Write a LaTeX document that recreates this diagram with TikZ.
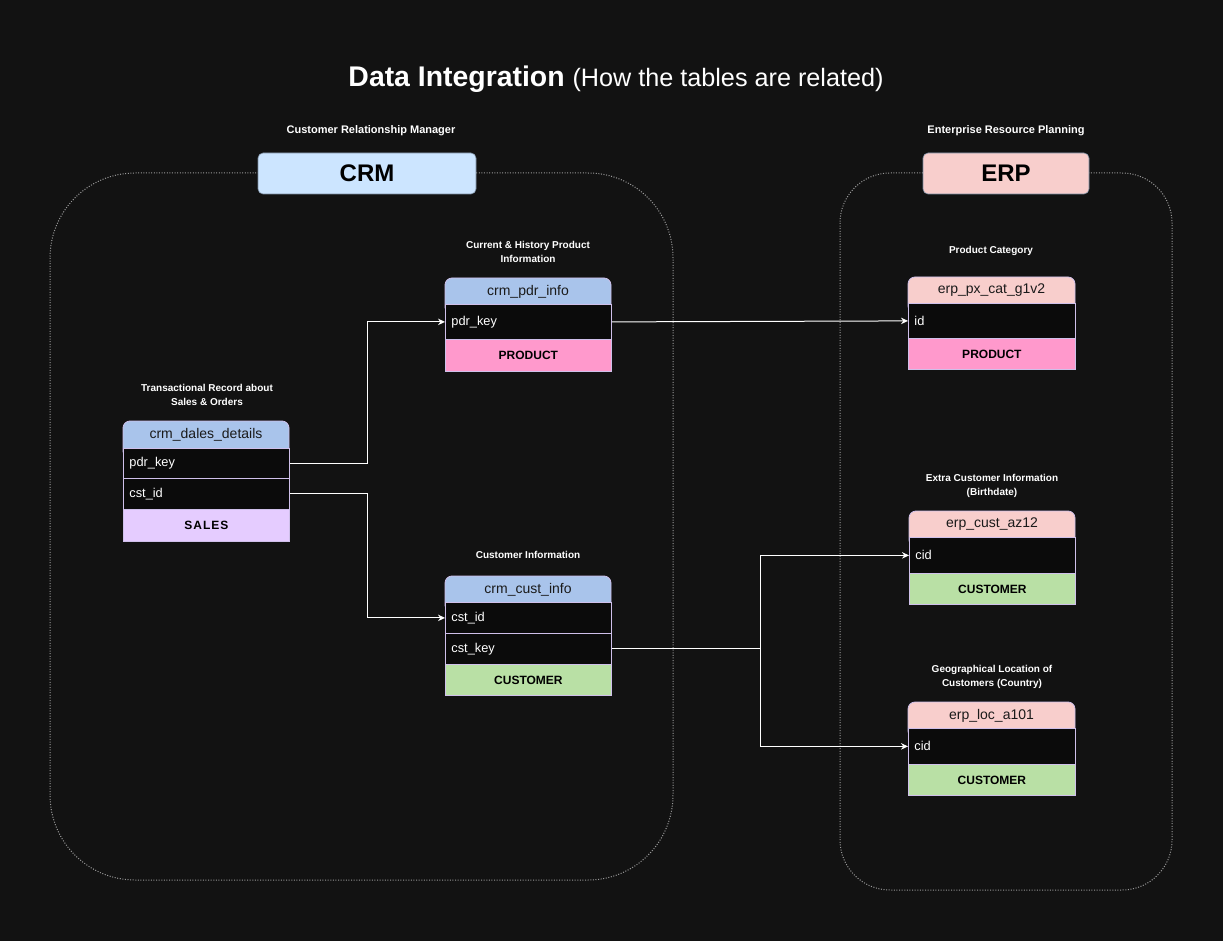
\documentclass[tikz,border=0pt]{standalone}
\usepackage{fontspec}
\setmainfont{Liberation Sans}
\usetikzlibrary{arrows.meta}
\definecolor{bg}{HTML}{121212}
\definecolor{rowfill}{HTML}{0B0B0B}
\definecolor{tblborder}{HTML}{CFC0EA}
\definecolor{dotgray}{HTML}{9A9A9A}
\definecolor{crmhead}{HTML}{A9C4EB}
\definecolor{erphead}{HTML}{F8CECC}
\definecolor{crmbox}{HTML}{CCE5FF}
\definecolor{erpbox}{HTML}{F8CECC}
\definecolor{salesfill}{HTML}{E5CCFF}
\definecolor{prodfill}{HTML}{FF99CC}
\definecolor{custfill}{HTML}{B9E0A5}
\definecolor{headink}{HTML}{1A1A1A}
\definecolor{catborder}{HTML}{7A8CA0}
\newcommand{\tblhead}[7]{%
  \path[fill=#6, draw=tblborder, line width=0.8pt, rounded corners=7pt] (#2,#3) rectangle (#4,#5+10);
  \node[headtext] (#1) at ({(#2+#4)/2},{(#3+#5)/2+0.5}) {#7};}
\begin{document}
\begin{tikzpicture}[x=1pt,y=-1pt,
  caption/.style={text=white, font=\fontsize{10}{13.5}\selectfont\bfseries, align=center},
  subtitle/.style={text=white, font=\fontsize{11}{13}\selectfont\bfseries},
  catbox/.style={draw=catborder, line width=0.6pt, rounded corners=5pt, minimum height=41pt, font=\fontsize{24}{28}\selectfont\bfseries, text=black},
  headtext/.style={text=headink, font=\fontsize{14}{16}\selectfont, inner sep=0pt},
  rowcell/.style={draw=tblborder, line width=0.8pt, fill=rowfill, text=white, font=\fontsize{12.8}{14}\selectfont, align=left, anchor=north west, inner xsep=6pt, inner ysep=0pt},
  footcell/.style={draw=tblborder, line width=0.8pt, text=black, font=\fontsize{12}{14}\selectfont\bfseries, anchor=north west, inner sep=0pt},
  container/.style={draw=dotgray, line width=1pt, dash pattern=on 1pt off 1.6pt},
  conn/.style={draw=white, line width=1pt, -{Stealth[length=7pt,width=6.5pt]}}]
\fill[bg] (0,0) rectangle (1223,941);
\useasboundingbox (0,0) rectangle (1223,941);

% title
\node[text=white, inner sep=0pt] (title) at (616,79) {\fontsize{28.4}{33}\selectfont\bfseries Data Integration \fontsize{25.2}{30}\selectfont\mdseries(How the tables are related)};

% containers
\draw[container, rounded corners=85pt] (50,173) rectangle (673,880);
\draw[container, rounded corners=50pt] (840,173) rectangle (1172,890);

% system labels
\node[subtitle] (crmsub) at (371,131) {Customer Relationship Manager};
\node[subtitle] (erpsub) at (1006,131) {Enterprise Resource Planning};
\node[catbox, fill=crmbox, minimum width=218pt] (crm) at (367,173.5) {CRM};
\node[catbox, fill=erpbox, minimum width=166pt] (erp) at (1006,173.5) {ERP};

% captions
\node[caption] (capsd) at (207,395) {Transactional Record about\\Sales \& Orders};
\node[caption] (cappi) at (528,252) {Current \& History Product\\Information};
\node[caption] (capci) at (528,555) {Customer Information};
\node[caption] (capec) at (991,251) {Product Category};
\node[caption] (capea) at (992,486) {Extra Customer Information\\(Birthdate)};
\node[caption] (capel) at (992,677) {Geographical Location of\\Customers (Country)};

% crm_dales_details
\tblhead{sd}{123}{421}{289}{448}{crmhead}{crm\_dales\_details}
\node[rowcell, text width=154pt, minimum height=30pt] (sd-pdr) at (123,448) {pdr\_key};
\node[rowcell, text width=154pt, minimum height=31pt] (sd-cst) at (123,478) {cst\_id};
\node[footcell, fill=salesfill, minimum width=166pt, minimum height=32pt] (sd-foot) at (123,509) {\addfontfeature{LetterSpace=8}SALES};

% crm_pdr_info
\tblhead{pi}{445}{278}{611}{304}{crmhead}{crm\_pdr\_info}
\node[rowcell, text width=154pt, minimum height=35pt] (pi-pdr) at (445,304) {pdr\_key\\[3pt]};
\node[footcell, fill=prodfill, minimum width=166pt, minimum height=32pt] (pi-foot) at (445,339) {PRODUCT};

% crm_cust_info
\tblhead{ci}{445}{576}{611}{602}{crmhead}{crm\_cust\_info}
\node[rowcell, text width=154pt, minimum height=31pt] (ci-id) at (445,602) {cst\_id};
\node[rowcell, text width=154pt, minimum height=31pt] (ci-key) at (445,633) {cst\_key};
\node[footcell, fill=custfill, minimum width=166pt, minimum height=31pt] (ci-foot) at (445,664) {CUSTOMER};

% erp_px_cat_g1v2
\tblhead{ec}{908}{277}{1075}{303}{erphead}{erp\_px\_cat\_g1v2}
\node[rowcell, text width=155pt, minimum height=35pt] (ec-id) at (908,303) {id\\[3pt]};
\node[footcell, fill=prodfill, minimum width=167pt, minimum height=31pt] (ec-foot) at (908,338) {PRODUCT};

% erp_cust_az12
\tblhead{ea}{909}{511}{1075}{537}{erphead}{erp\_cust\_az12}
\node[rowcell, text width=154pt, minimum height=36pt] (ea-cid) at (909,537) {cid\\[3pt]};
\node[footcell, fill=custfill, minimum width=166pt, minimum height=31pt] (ea-foot) at (909,573) {CUSTOMER};

% erp_loc_a101
\tblhead{el}{908}{702}{1075}{728}{erphead}{erp\_loc\_a101}
\node[rowcell, text width=155pt, minimum height=36pt] (el-cid) at (908,728) {cid\\[3pt]};
\node[footcell, fill=custfill, minimum width=167pt, minimum height=31pt] (el-foot) at (908,764) {CUSTOMER};

% connectors
\coordinate (j1) at (367,0);
\coordinate (j2) at (760,0);
\draw[conn] (sd-pdr.east) -- (sd-pdr.east -| j1) |- (pi-pdr.west);
\draw[conn] (sd-cst.east) -- (sd-cst.east -| j1) |- (ci-id.west);
\draw[conn] (pi-pdr.east) -- (ec-id.west);
\draw[conn] (ci-key.east) -- (ci-key.east -| j2) |- (ea-cid.west);
\draw[conn] (ci-key.east -| j2) |- (el-cid.west);
\end{tikzpicture}
\end{document}
